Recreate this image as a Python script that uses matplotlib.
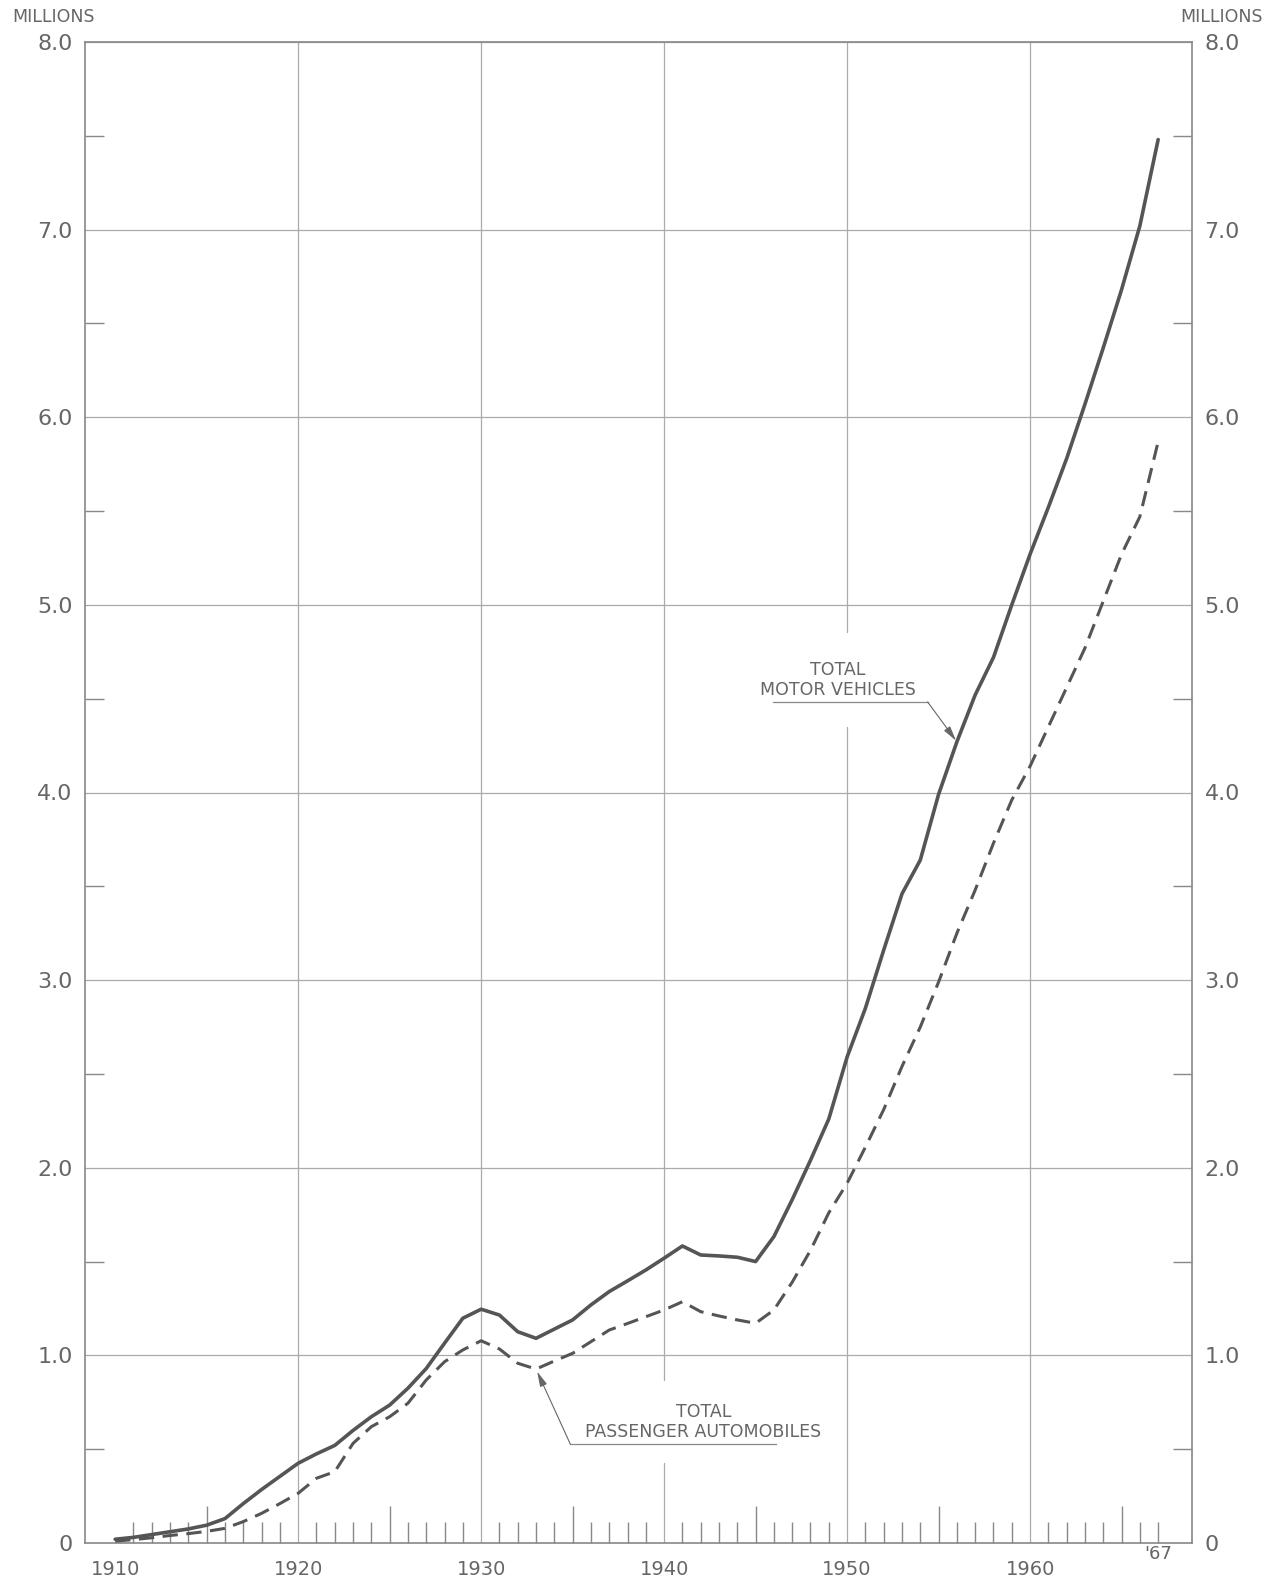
import numpy as np
import matplotlib.pyplot as plt
import matplotlib.transforms as mtransforms
from matplotlib.ticker import FixedLocator, MultipleLocator

# Registrations, millions
years = np.arange(1910, 1968)

motor_vehicles = [
    0.02, 0.03, 0.045, 0.06, 0.075, 0.095, 0.13, 0.21, 0.285, 0.355,
    0.425, 0.475, 0.52, 0.60, 0.673, 0.735, 0.825, 0.93, 1.065, 1.198,
    1.246, 1.215, 1.126, 1.091, 1.14, 1.189, 1.269, 1.34, 1.397, 1.455,
    1.518, 1.583, 1.535, 1.53, 1.523, 1.50, 1.633, 1.83, 2.04, 2.26,
    2.59, 2.85, 3.16, 3.46, 3.64, 3.99, 4.27, 4.52, 4.72, 5.00,
    5.27, 5.52, 5.78, 6.07, 6.37, 6.68, 7.02, 7.48,
]

passenger_autos = [
    0.01, 0.018, 0.028, 0.04, 0.05, 0.062, 0.078, 0.114, 0.158, 0.21,
    0.265, 0.345, 0.38, 0.531, 0.62, 0.673, 0.745, 0.869, 0.966, 1.029,
    1.078, 1.034, 0.958, 0.927, 0.97, 1.011, 1.073, 1.135, 1.17, 1.206,
    1.242, 1.286, 1.233, 1.21, 1.189, 1.171, 1.242, 1.39, 1.56, 1.76,
    1.917, 2.11, 2.31, 2.54, 2.75, 2.99, 3.25, 3.48, 3.73, 3.96,
    4.14, 4.35, 4.56, 4.77, 5.02, 5.27, 5.47, 5.87,
]

decade_years = [1910, 1920, 1930, 1940, 1950, 1960]
decade_labels = ['1910', '1920', '1930', '1940', '1950', '1960']
y_ticks = [0, 1, 2, 3, 4, 5, 6, 7, 8]
y_labels = ['0', '1.0', '2.0', '3.0', '4.0', '5.0', '6.0', '7.0', '8.0']

mv = dict(zip(years, motor_vehicles))
pa = dict(zip(years, passenger_autos))

txt = '#666666'
grid_c = '#aaaaaa'
line_c = '#555555'

fig = plt.figure(figsize=(12.81, 15.79), dpi=100)
ax = fig.add_axes([85 / 1281, 36 / 1579, (1192 - 85) / 1281, (1543 - 42) / 1579])

ax.plot(years, motor_vehicles, color=line_c, lw=2.6, solid_joinstyle='round',
        solid_capstyle='round', zorder=5)
ax.plot(years, passenger_autos, color=line_c, lw=2.2, dashes=(5, 2.8),
        dash_capstyle='butt', zorder=5)

ax.set_xlim(1908.35, 1968.85)
ax.set_ylim(0, 8)

# x axis: decade labels + gridlines, yearly small ticks, 5-year taller ticks
ax.set_xticks(decade_years)
ax.set_xticklabels(decade_labels)
ax.xaxis.set_minor_locator(FixedLocator([y for y in years if y % 5 != 0]))
ax.tick_params(axis='x', which='major', length=0, pad=12, labelsize=14,
               labelcolor=txt)
ax.tick_params(axis='x', which='minor', direction='in', length=15,
               width=1.0, color='#888888')

sec = ax.secondary_xaxis('bottom')
sec.set_xticks([1915, 1925, 1935, 1945, 1955, 1965])
sec.tick_params(direction='in', length=27, width=1.0, color='#888888',
                labelbottom=False)
sec.spines['bottom'].set_visible(False)

# y axis: labels both sides, half-unit ticks inward
ax.set_yticks(y_ticks)
ax.set_yticklabels(y_labels)
ax.yaxis.set_minor_locator(MultipleLocator(0.5))
ax.tick_params(axis='y', which='major', length=0, pad=9, labelsize=16,
               labelcolor=txt, left=True, right=True, labelleft=True,
               labelright=True)
ax.tick_params(axis='y', which='minor', direction='in', length=14, width=1.0,
               color='#888888', left=True, right=True)

ax.grid(True, which='major', color=grid_c, lw=0.9, zorder=0)
ax.xaxis.get_gridlines()[0].set_visible(False)
ax.set_axisbelow(True)

for s in ax.spines.values():
    s.set_color('#888888')
    s.set_linewidth(1.2)

blend = mtransforms.blended_transform_factory(ax.transData, ax.transAxes)
ax.text(1967, -0.0075, "'67", transform=blend, ha='center', va='center',
        fontsize=13, color=txt)

fig.text(54 / 1281, 1 - 17 / 1579, 'MILLIONS', ha='center', va='center',
         fontsize=12.5, color=txt)
fig.text(1222 / 1281, 1 - 17 / 1579, 'MILLIONS', ha='center', va='center',
         fontsize=12.5, color=txt)

# labels with leaders
ax.text(1949.5, 4.60, 'TOTAL\nMOTOR VEHICLES', ha='center', va='center',
        multialignment='center', fontsize=12.5, color=txt, linespacing=1.15,
        bbox=dict(fc='white', ec='none', pad=20), zorder=3)
ax.plot([1945.95, 1954.4], [4.483, 4.483], color='#888888', lw=0.9, zorder=4)
ax.annotate('', xy=(1956, mv[1956]), xytext=(1954.4, 4.483),
            arrowprops=dict(arrowstyle='-|>,head_length=0.9,head_width=0.22',
                            color='#666666', lw=0.8, shrinkA=0, shrinkB=1),
            zorder=4)

ax.text(1942.15, 0.645, 'TOTAL\nPASSENGER AUTOMOBILES', ha='center',
        va='center', multialignment='center', fontsize=12.5, color=txt,
        linespacing=1.15, bbox=dict(fc='white', ec='none', pad=16), zorder=3)
ax.plot([1934.87, 1946.1], [0.528, 0.528], color='#888888', lw=0.9, zorder=4)
ax.annotate('', xy=(1933, pa[1933]), xytext=(1934.87, 0.528),
            arrowprops=dict(arrowstyle='-|>,head_length=0.9,head_width=0.22',
                            color='#666666', lw=0.8, shrinkA=0, shrinkB=2),
            zorder=4)

fig.savefig('out.png', dpi=100, facecolor='white')
